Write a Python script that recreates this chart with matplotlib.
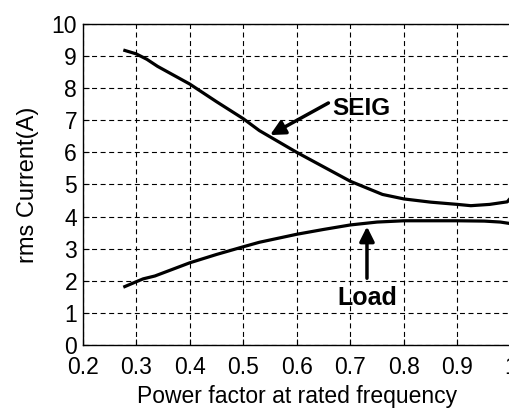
import matplotlib.pyplot as plt
import numpy as np

plt.rcParams['font.family'] = ['Liberation Sans', 'DejaVu Sans']

# power factor vs rms current, read at rated frequency
pf_seig = [0.276, 0.30, 0.32, 0.34, 0.40, 0.45, 0.50, 0.53, 0.60, 0.65, 0.70, 0.76, 0.80, 0.85, 0.90, 0.925, 0.96, 0.993, 1.0]
i_seig = [9.19, 9.07, 8.90, 8.68, 8.13, 7.58, 7.05, 6.68, 6.00, 5.55, 5.10, 4.69, 4.55, 4.45, 4.38, 4.34, 4.38, 4.46, 4.60]

pf_load = [0.276, 0.30, 0.313, 0.335, 0.40, 0.45, 0.50, 0.53, 0.60, 0.65, 0.70, 0.75, 0.80, 0.85, 0.90, 0.95, 0.98, 1.0]
i_load = [1.80, 1.97, 2.06, 2.15, 2.56, 2.82, 3.06, 3.20, 3.45, 3.60, 3.74, 3.83, 3.87, 3.87, 3.87, 3.86, 3.83, 3.78]

xticks = [0.2, 0.3, 0.4, 0.5, 0.6, 0.7, 0.8, 0.9, 1.0]
xticklabels = ['0.2', '0.3', '0.4', '0.5', '0.6', '0.7', '0.8', '0.9', '1']
yticks = list(range(0, 11))

fig = plt.figure(figsize=(5.10, 4.11), dpi=100)
ax = fig.add_axes([0.162, 0.1606, 0.840, 0.781])

ax.plot(pf_seig, i_seig, color='black', lw=2.3, solid_capstyle='butt')
ax.plot(pf_load, i_load, color='black', lw=2.3, solid_capstyle='butt')

ax.set_xlim(0.2, 1.0)
ax.set_ylim(0, 10)
ax.set_xticks(xticks)
ax.set_xticklabels(xticklabels)
ax.set_yticks(yticks)
ax.tick_params(direction='in', length=4, width=0.8, labelsize=16.5)
ax.tick_params(axis='x', pad=8)
ax.tick_params(axis='y', pad=4)
ax.grid(True, color='black', lw=0.8, linestyle=(0, (4.5, 3.2)))
for s in ax.spines.values():
    s.set_linewidth(1.0)

ax.set_xlabel('Power factor at rated frequency', fontsize=16.5, labelpad=4)
ax.set_ylabel('rms Current(A)', fontsize=17, labelpad=9)

ax.annotate('', xy=(0.55, 6.54), xytext=(0.659, 7.54),
            arrowprops=dict(arrowstyle='-|>', color='black', lw=2.5, mutation_scale=22, shrinkA=0, shrinkB=0))
ax.text(0.666, 7.38, 'SEIG', fontsize=17.5, fontweight='bold', ha='left', va='center')

ax.annotate('', xy=(0.731, 3.69), xytext=(0.731, 2.08),
            arrowprops=dict(arrowstyle='-|>', color='black', lw=2.5, mutation_scale=22, shrinkA=0, shrinkB=0))
ax.text(0.731, 1.46, 'Load', fontsize=18, fontweight='bold', ha='center', va='center')

fig.savefig('out.png', dpi=100)
